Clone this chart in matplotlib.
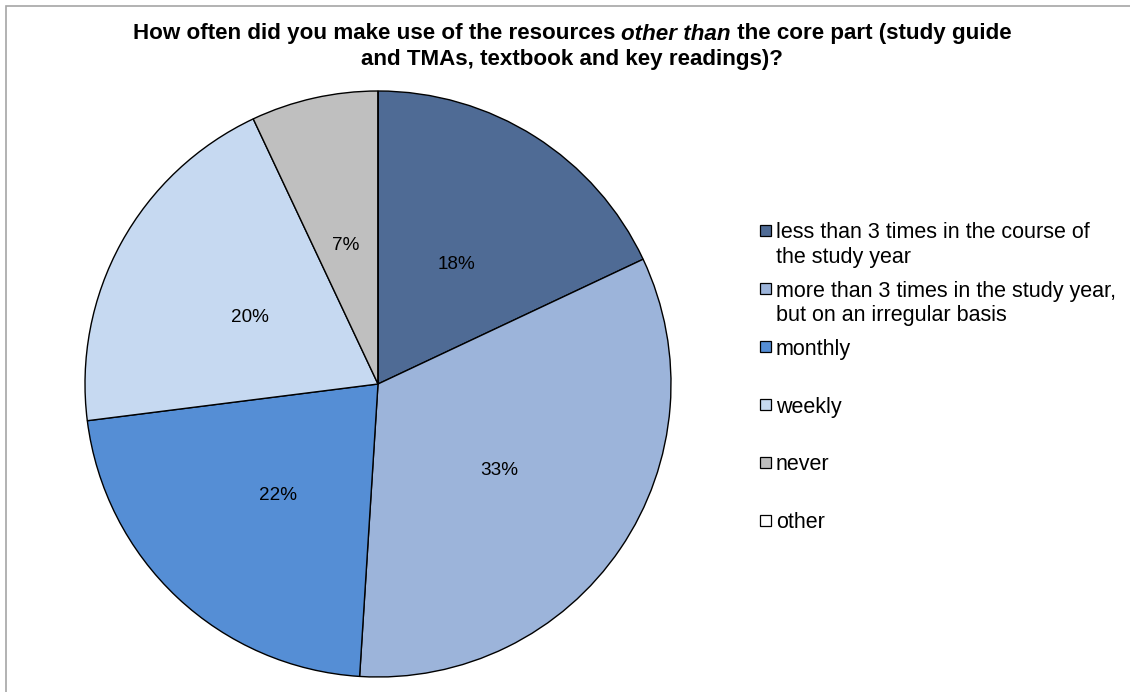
import matplotlib
matplotlib.use("Agg")
import matplotlib.pyplot as plt
import matplotlib.transforms as mtransforms
from matplotlib.patches import Rectangle

plt.rcParams['font.family'] = ['Liberation Sans', 'DejaVu Sans']

categories = [
    "less than 3 times in the course of\nthe study year",
    "more than 3 times in the study year,\nbut on an irregular basis",
    "monthly",
    "weekly",
    "never",
    "other",
]
values = [18, 33, 22, 20, 7, 0]
colors = ["#4F6B95", "#9CB4DA", "#558ED5", "#C6D9F1", "#BFBFBF", "#FFFFFF"]

W, H = 1130, 692
fig = plt.figure(figsize=(W / 100, H / 100), dpi=100)

def fx(px):
    return px / W

def fy(py):
    return 1 - py / H

# chart frame
fig.patches.append(Rectangle((fx(6), fy(H + 10)), fx(W + 10), (H + 4) / H,
                             transform=fig.transFigure, fill=False,
                             edgecolor="#A6A6A6", lw=1.2))

# pie
cx, cy, r = 378, 384, 293
ax = fig.add_axes([fx(cx - r), fy(cy + r), 2 * r / W, 2 * r / H])
wedges, texts, autotexts = ax.pie(
    values, colors=colors, startangle=90, counterclock=False,
    autopct=lambda p: f"{p:.0f}%" if p > 0.5 else "",
    pctdistance=0.5, radius=1.0,
    wedgeprops=dict(edgecolor="black", linewidth=1.0),
    textprops=dict(fontsize=13.6, color="black"))
ax.set_xlim(-1, 1)
ax.set_ylim(-1, 1)
ax.set_aspect("equal")
ax.axis("off")
shift = mtransforms.offset_copy(ax.transData, fig=fig, x=0, y=-4.5, units="dots")
for t in autotexts:
    t.set_transform(shift)

# title with mixed bold / bold-italic
fig.canvas.draw()
renderer = fig.canvas.get_renderer()
title_fs = 16.1
line1 = [("How often did you make use of the resources ", "normal"),
         ("other than", "italic"),
         (" the core part (study guide", "normal")]
tcx = 572
pieces = []
for s, st in line1:
    t = fig.text(0, fy(34), s, fontsize=title_fs, fontweight="bold",
                 fontstyle=st, ha="left", va="center")
    pieces.append(t)
widths = [p.get_window_extent(renderer).width for p in pieces]
x0 = tcx - sum(widths) / 2
for p, w in zip(pieces, widths):
    p.set_x(fx(x0))
    x0 += w
fig.text(fx(tcx), fy(60), "and TMAs, textbook and key readings)?",
         fontsize=title_fs, fontweight="bold", ha="center", va="center")

# legend
leg_x_box = 760
leg_x_text = 776
leg_y0 = 230
leg_step = 58
for i, (lab, col) in enumerate(zip(categories, colors)):
    yc = leg_y0 + i * leg_step
    fig.patches.append(Rectangle((fx(leg_x_box), fy(yc + 5.5)), 11 / W, 11 / H,
                                 transform=fig.transFigure, facecolor=col,
                                 edgecolor="black", lw=0.9))
    fig.text(fx(leg_x_text), fy(yc - 7.5), lab, fontsize=15.5, ha="left",
             va="top", linespacing=1.2)

fig.savefig("out.png", dpi=100)
